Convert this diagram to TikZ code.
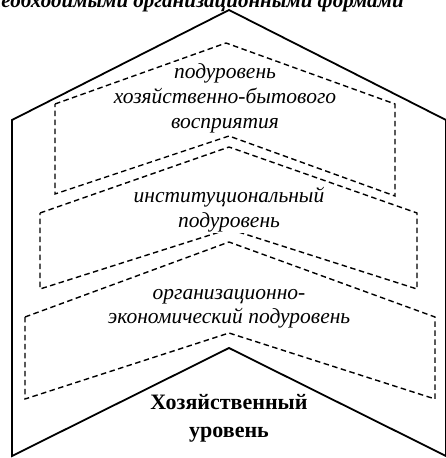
\documentclass[tikz,border=0pt]{standalone}
\usepackage{fontspec}
\setmainfont{Liberation Serif}
\begin{document}
\begin{tikzpicture}[x=1pt,y=-1pt,
  solidline/.style={line width=1.8pt, line join=miter},
  dashline/.style={line width=1.4pt, dash pattern=on 5.5pt off 3.5pt},
  lbl/.style={font=\fontsize{21.5}{25}\selectfont\itshape, fill=white, inner sep=1pt, anchor=base},
  boldlbl/.style={font=\fontsize{22}{28}\selectfont\bfseries, inner sep=1pt, anchor=base},
  toptext/.style={font=\fontsize{21}{24}\selectfont\bfseries\itshape, inner sep=0pt, anchor=base}
]
\useasboundingbox (0,0) rectangle (446,458);
\clip (0,0) rectangle (446,458);
\fill[white] (0,0) rectangle (446,458);
% cropped caption at top
\node[toptext] (caption) at (223,7) {\llap{необходимыми }организационными\rlap{ формами}};
% outer solid shape
\draw[solidline] (12,120) -- (229,10) -- (446,120) -- (446,456) -- (229,348) -- (12,456) -- cycle;
% dashed chevrons
\draw[dashline] (55,104) -- (226,43) -- (395,104) -- (395,196) -- (229,136) -- (55,194) -- cycle;
\draw[dashline] (40,213) -- (229,147) -- (417,213) -- (417,289) -- (229,229) -- (40,289) -- cycle;
\draw[dashline] (25,317) -- (229,242) -- (435,317) -- (435,399) -- (229,333) -- (25,399) -- cycle;
% labels
\node[lbl] (sub1a) at (225,78) {подуровень};
\node[lbl] (sub1b) at (225,103) {хозяйственно-бытового};
\node[lbl] (sub1c) at (225,128) {восприятия};
\node[lbl] (sub2a) at (229,202) {институциональный};
\node[lbl] (sub2b) at (229,227) {подуровень};
\node[lbl] (sub3a) at (229,299) {организационно-};
\node[lbl] (sub3b) at (229,323) {экономический подуровень};
\node[boldlbl] (maina) at (229,409) {Хозяйственный};
\node[boldlbl] (mainb) at (229,437) {уровень};
\end{tikzpicture}
\end{document}
